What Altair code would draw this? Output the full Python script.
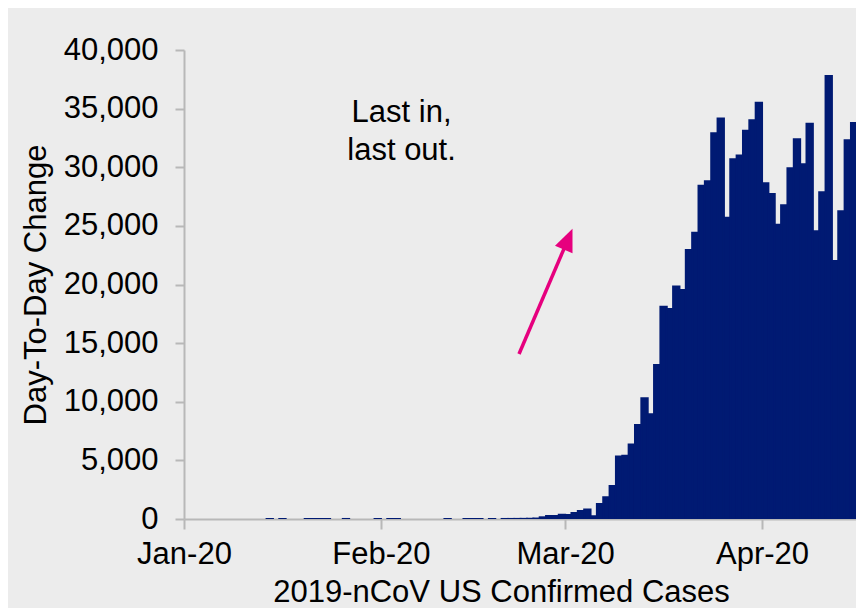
import altair as alt
import pandas as pd

# ---------------- data ----------------
# sporadic near-zero daily changes in Jan / Feb
early_dates = ["2020-01-14", "2020-01-16", "2020-01-20", "2020-01-21", "2020-01-22",
               "2020-01-23", "2020-01-26", "2020-01-31", "2020-02-02", "2020-02-03",
               "2020-02-11", "2020-02-14", "2020-02-15", "2020-02-16", "2020-02-18",
               "2020-02-20", "2020-02-21", "2020-02-22", "2020-02-23", "2020-02-24",
               "2020-02-25"]
early_values = [1, 1, 1, 1, 2, 1, 3, 1, 1, 1, 1, 1, 1, 2, 1, 3, 5, 8, 12, 20, 40]

# continuous daily changes from Feb 26 to Apr 16
run_start = "2020-02-26"
run_values = [145, 250, 260, 370, 340, 510, 680, 800, 230, 1280,
              1850, 2820, 5320, 5400, 6350, 8020, 10300, 8930, 13140, 18110,
              17910, 19820, 19530, 22950, 24420, 28430, 28800, 32900, 34150, 25700,
              30680, 31000, 33120, 34000, 35510, 28630, 27720, 25100, 26760, 29910,
              32390, 30260, 33700, 24540, 27870, 37790, 22010, 26250, 32300, 33780,
              26810]

month_ticks = ["2020-01-01", "2020-02-01", "2020-03-01", "2020-04-01"]
y_ticks = [0, 5000, 10000, 15000, 20000, 25000, 30000, 35000, 40000]

annotation_lines = ["Last in,", "last out."]
annotation_at = {"date": ["2020-02-04T06:00:00"], "value": [33900]}
arrow = {"x0": ["2020-02-22T17:45:00"], "y0": [14075],
         "x1": ["2020-03-01T11:15:00"], "y1": [23870]}

# ---------------- tables ----------------
run_dates = pd.date_range(run_start, periods=len(run_values), freq="D")
bars = pd.DataFrame({
    "date": list(pd.to_datetime(early_dates)) + list(run_dates),
    "value": early_values + run_values,
})
bars["end"] = bars["date"] + pd.Timedelta(days=1)

minor = pd.DataFrame({"date": pd.date_range("2020-01-01", "2020-04-16", freq="D")})
ann = pd.DataFrame(annotation_at)
ann["date"] = pd.to_datetime(ann["date"])
arr = pd.DataFrame(arrow)
arr["x0"] = pd.to_datetime(arr["x0"])
arr["x1"] = pd.to_datetime(arr["x1"])

# ---------------- styling ----------------
FONT = "Liberation Sans"
FS = 31
NAVY = "#001a73"
MAGENTA = "#e6007e"
AXIS_GREY = "#b8b8b8"

x_scale = alt.Scale(domain=[alt.DateTime(year=2020, month=1, date=1),
                            alt.DateTime(year=2020, month=4, date=15, hours=19)], nice=False)
y_scale = alt.Scale(domain=[0, 40000], nice=False)

x_axis = alt.Axis(
    values=[alt.DateTime(year=2020, month=int(d[5:7]), date=1) for d in month_ticks],
    format="%b-%y", labelFontSize=FS, labelFont=FONT, labelColor="black",
    labelPadding=10, tickSize=10, tickColor=AXIS_GREY, tickWidth=2,
    domainColor=AXIS_GREY, domainWidth=2, grid=False,
    labelFlush=False, labelOverlap=False,
    titleFontSize=FS, titleFont=FONT, titleFontWeight="normal", titleColor="black",
    titleX=317, titleY=82, titleBaseline="alphabetic", titleAlign="center",
)
y_axis = alt.Axis(
    values=y_ticks, format=",.0f", labelFontSize=FS, labelFont=FONT, labelColor="black",
    labelPadding=17, tickSize=9, tickColor=AXIS_GREY, tickWidth=2,
    domainColor=AXIS_GREY, domainWidth=2, grid=False, labelOverlap=False,
    titleFontSize=FS, titleFont=FONT, titleFontWeight="normal", titleColor="black",
    titleAngle=270, titleX=-139, titleY=234.5, titleBaseline="alphabetic",
    titleAlign="center",
)
X_TITLE = "2019-nCoV US Confirmed Cases"
Y_TITLE = "Day-To-Day Change"

minor_ticks = alt.Chart(minor).mark_tick(
    orient="vertical", size=4, thickness=1, color=AXIS_GREY, yOffset=2, clip=True
).encode(
    x=alt.X("date:T", scale=x_scale, axis=x_axis, title=X_TITLE),
    y=alt.Y("v:Q", scale=y_scale, axis=y_axis, title=Y_TITLE),
).transform_calculate(v="0")

bar_layer = alt.Chart(bars).mark_bar(
    color=NAVY, stroke=NAVY, strokeWidth=2, clip=True
).encode(
    x=alt.X("date:T", scale=x_scale, axis=x_axis, title=X_TITLE),
    x2="end:T",
    y=alt.Y("value:Q", scale=y_scale, axis=y_axis, title=Y_TITLE),
    y2=alt.datum(0),
)

arrow_line = alt.Chart(arr).mark_rule(color=MAGENTA, strokeWidth=3.5).encode(
    x=alt.X("x0:T", scale=x_scale, axis=x_axis, title=X_TITLE),
    x2="x1:T",
    y=alt.Y("y0:Q", scale=y_scale, axis=y_axis, title=Y_TITLE),
    y2="y1:Q",
)
arrow_head = alt.Chart(arr).mark_point(
    shape="M0,-1L0.85,1L-0.85,1Z", filled=True, size=500, angle=23,
    color=MAGENTA, opacity=1, strokeWidth=0
).encode(
    x=alt.X("x1:T", scale=x_scale, axis=x_axis, title=X_TITLE),
    y=alt.Y("y1:Q", scale=y_scale, axis=y_axis, title=Y_TITLE),
)

note = alt.Chart(ann).mark_text(
    text=annotation_lines, font=FONT, fontSize=FS, color="black",
    align="center", baseline="alphabetic", lineHeight=38
).encode(
    x=alt.X("date:T", scale=x_scale, axis=x_axis, title=X_TITLE),
    y=alt.Y("value:Q", scale=y_scale, axis=y_axis, title=Y_TITLE),
)

chart = alt.layer(minor_ticks, bar_layer, arrow_line, arrow_head, note).properties(
    width=672, height=469,
    autosize=alt.AutoSizeParams(type="none"),
    padding={"left": 176, "top": 42, "right": 0, "bottom": 89},
    background="#ececec",
).configure_view(stroke=None)

chart.save("out.html", embed_options={"renderer": "svg", "actions": False})
